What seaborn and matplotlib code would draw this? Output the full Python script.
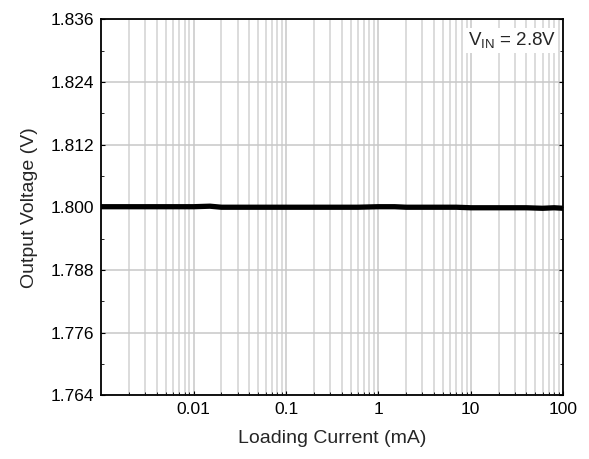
import numpy as np
import pandas as pd
import matplotlib
matplotlib.use('Agg')
import matplotlib.pyplot as plt
import seaborn as sns
from matplotlib.ticker import LogLocator, MultipleLocator, FixedLocator

# measured output voltage vs load current
load_ma = [0.001, 0.002, 0.004, 0.007, 0.01, 0.015, 0.02, 0.04, 0.07, 0.1, 0.2,
           0.4, 0.6, 1.0, 1.5, 2.0, 4.0, 7.0, 10.0, 20.0, 40.0, 60.0, 80.0, 100.0]
vout = [1.8001, 1.8001, 1.8001, 1.8001, 1.8001, 1.8002, 1.8000, 1.8000, 1.8000,
        1.8000, 1.8000, 1.8000, 1.8000, 1.8001, 1.8001, 1.8000, 1.8000, 1.8000,
        1.7999, 1.7999, 1.7999, 1.7998, 1.7999, 1.7998]
xticks = [0.01, 0.1, 1, 10, 100]
xlabels = ['0.01', '0.1', '1', '10', '100']
yticks = [1.764, 1.776, 1.788, 1.800, 1.812, 1.824, 1.836]

df = pd.DataFrame({'load': load_ma, 'vout': vout})

sns.set_style('white')
plt.rcParams['font.family'] = ['Liberation Sans', 'DejaVu Sans']
plt.rcParams['mathtext.fontset'] = 'custom'
plt.rcParams['mathtext.rm'] = 'Liberation Sans'

fig, ax = plt.subplots(figsize=(5.89, 4.59), dpi=100)
fig.subplots_adjust(left=0.172, right=0.956, top=0.958, bottom=0.139)

sns.lineplot(data=df, x='load', y='vout', color='black', linewidth=3.8, ax=ax)
ax.set_xscale('log')
ax.set_xlim(0.001, 100)
ax.set_ylim(1.764, 1.836)

ax.xaxis.set_major_locator(FixedLocator(xticks))
ax.set_xticklabels(xlabels)
ax.xaxis.set_minor_locator(LogLocator(base=10, subs=np.arange(2, 10), numticks=20))
ax.set_yticks(yticks)
ax.set_yticklabels(['%.3f' % v for v in yticks])
ax.yaxis.set_minor_locator(MultipleLocator(0.006))

ax.grid(which='major', color='#c8c8c8', linewidth=1.1)
ax.grid(which='minor', axis='x', color='#d2d2d2', linewidth=1.1)

ax.tick_params(which='both', direction='in', top=False, right=True, bottom=True, left=True,
               labelsize=12.5, colors='black', pad=5)
ax.tick_params(which='major', length=3)
ax.tick_params(which='minor', length=2)
for s in ax.spines.values():
    s.set_color('black')
    s.set_linewidth(1.3)

ax.set_xlabel('Loading Current (mA)', fontsize=14, labelpad=9)
ax.set_ylabel('Output Voltage (V)', fontsize=14, labelpad=9)

ax.text(0.985, 0.97, r'V$_{\mathregular{IN}}$ = 2.8V', transform=ax.transAxes,
        ha='right', va='top', fontsize=13.5,
        bbox=dict(facecolor='white', edgecolor='none', pad=1.5))

fig.savefig('out.png', dpi=100)
